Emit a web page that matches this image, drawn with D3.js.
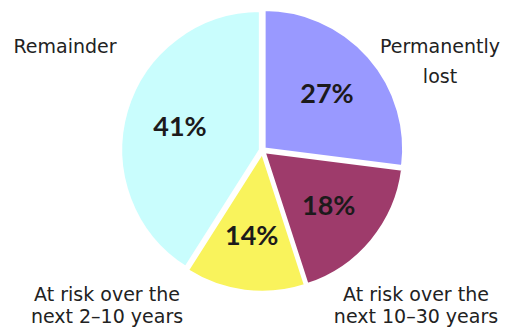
<!DOCTYPE html>
<html>
<head>
<meta charset="utf-8">
<script src="https://cdn.jsdelivr.net/npm/d3@7"></script>
<style>
  html, body { margin: 0; padding: 0; background: #fff; }
  svg { display: block; }
</style>
</head>
<body>
<div id="container"></div>
<script>
// slices go clockwise from 12 o'clock
const categories = ['Permanently lost', 'At risk over the next 10–30 years', 'At risk over the next 2–10 years', 'Remainder'];
const values = [27, 18, 14, 41];
const sliceColors = ['#9999ff', '#9e3b6b', '#f9f35c', '#c9fdfd'];

// how each category name is broken over lines
const labelLines = [
    ['Permanently', 'lost'],
    ['At risk over the', 'next 10–30 years'],
    ['At risk over the', 'next 2–10 years'],
    ['Remainder']
];

const width = 510;
const height = 329;
const cx = 262.5;
const cy = 150.5;
const radius = 139;

const svg = d3.select('#container')
              .append('svg')
              .attr('width', width)
              .attr('height', height);

const color = d3.scaleOrdinal()
                .domain(categories)
                .range(sliceColors);

const pie = d3.pie()
              .value(d => d.value)
              .sort(null);

const data = categories.map((c, i) => ({ name: c, value: values[i], lines: labelLines[i] }));
const arcs = pie(data);

const arc = d3.arc().innerRadius(0).outerRadius(radius);
const labelArc = d3.arc().innerRadius(radius * 0.6).outerRadius(radius * 0.6);

const chart = svg.append('g')
                 .attr('transform', 'translate(' + cx + ',' + cy + ')');

// small explode offset along each slice's middle
const explode = 2.5;
const offset = d => {
    const a = (d.startAngle + d.endAngle) / 2;
    return [Math.sin(a) * explode, -Math.cos(a) * explode];
};

const slice = chart.selectAll('g.slice')
                   .data(arcs)
                   .enter()
                   .append('g')
                   .attr('class', 'slice')
                   .attr('transform', d => 'translate(' + offset(d) + ')');

slice.append('path')
     .attr('d', arc)
     .attr('fill', d => color(d.data.name))
     .attr('stroke', '#fff')
     .attr('stroke-width', 2.5)
     .attr('stroke-linejoin', 'round');

slice.append('text')
     .attr('transform', d => 'translate(' + labelArc.centroid(d) + ')')
     .attr('text-anchor', 'middle')
     .attr('dy', '0.36em')
     .style('font-family', 'Lato, "Open Sans", sans-serif')
     .style('font-weight', 700)
     .style('font-size', '27px')
     .style('fill', '#1c1a1b')
     .text(d => d.data.value + '%');

// category names sit outside the pie, one anchor per slice
const nameSpots = [
    { x: 440, y: 53, step: 30 },
    { x: 416, y: 301, step: 22 },
    { x: 107, y: 301, step: 22 },
    { x: 65, y: 53, step: 30 }
];

const names = svg.selectAll('text.name')
                 .data(data)
                 .enter()
                 .append('text')
                 .attr('class', 'name')
                 .attr('text-anchor', 'middle')
                 .style('font-family', '"DejaVu Sans", Verdana, sans-serif')
                 .style('font-size', '19px')
                 .style('fill', '#222');

names.selectAll('tspan')
     .data((d, i) => d.lines.map((t, j) => ({ t: t, x: nameSpots[i].x, y: nameSpots[i].y + j * nameSpots[i].step })))
     .enter()
     .append('tspan')
     .attr('x', d => d.x)
     .attr('y', d => d.y)
     .text(d => d.t);
</script>
</body>
</html>
